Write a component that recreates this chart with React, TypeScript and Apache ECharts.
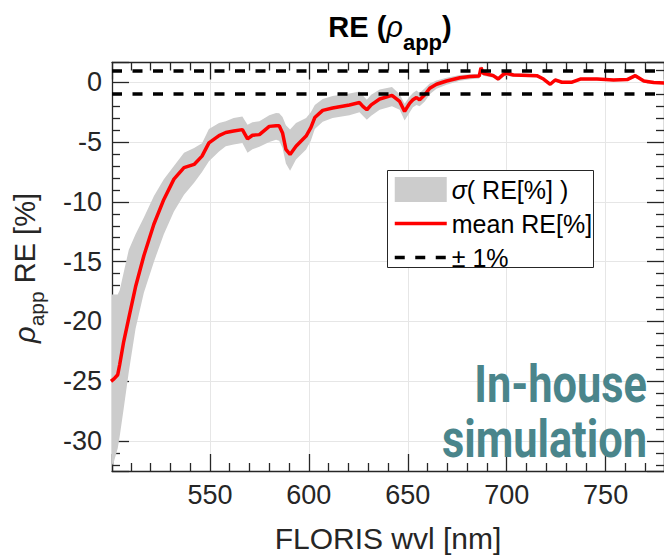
import React, { useEffect, useRef } from "react";
import * as echarts from "echarts";

// FLORIS wavelength samples [nm]
const wavelength = [
  500, 501.5, 503.4, 504.4, 506.4, 509, 512.4, 516.6, 521.7, 526.7,
  531.8, 536.9, 542, 546, 549.5, 554.6, 558, 562, 566.4, 569,
  571.5, 575, 580, 583.4, 585, 586.7, 588.4, 590.5, 593.5, 598.6,
  601, 603, 607, 612, 620.5, 625.6, 627.3, 629.3, 631.5, 635.8,
  642, 645.9, 648.4, 651, 652.6, 654.4, 656, 658.6, 661.1, 664.5,
  669.6, 676.3, 681.4, 686.1, 687, 688.1, 693.2, 695.7, 698.3, 700,
  703.4, 715.2, 718.6, 722, 724.5, 727.9, 733, 737.2, 745.6, 754,
  760.9, 765, 769.3, 774.3, 780,
];

// mean relative error of rho_app [%]
const meanRE = [
  -25.0, -24.8, -24.45, -23.6, -21.7, -19.7, -17.1, -14.5, -11.85, -9.8,
  -8.1, -7.14, -6.87, -6.18, -5.07, -4.46, -4.2, -4.08, -3.96, -4.74,
  -4.43, -4.38, -3.69, -3.63, -3.63, -4.24, -5.62, -6.04, -5.35, -4.5,
  -3.8, -2.95, -2.35, -2.15, -1.9, -1.7, -2.02, -2.3, -1.89, -1.4,
  -1.1, -1.61, -2.44, -1.75, -1.47, -1.28, -1.47, -1.05, -0.5, -0.17,
  0.1, 0.38, 0.47, 0.52, 1.21, 0.75, 0.55, 0.27, 0.66, 0.75,
  0.6, 0.55, 0.27, -0.17, 0.19, 0.0, 0.0, 0.27, 0.27, 0.19,
  0.22, 0.55, 0.1, -0.03, -0.06,
];

// lower / upper edge of the sigma envelope [%]
const bandLow = [
  -32.2, -31.7, -30.6, -29.6, -27.3, -24.2, -20.6, -17.6, -15.0, -12.7,
  -10.8, -9.4, -8.4, -7.5, -6.6, -5.8, -5.35, -5.2, -5.07, -5.9,
  -5.6, -5.4, -5.0, -4.8, -4.9, -5.5, -6.8, -7.4, -6.45, -5.62,
  -4.9, -3.9, -3.3, -3.0, -2.75, -2.5, -2.8, -3.13, -2.8, -2.3,
  -2.0, -2.3, -3.2, -2.5, -2.1, -1.9, -2.0, -1.6, -1.0, -0.55,
  -0.2, 0.12, 0.25, 0.32, 1.0, 0.55, 0.38, 0.1, 0.45, 0.55,
  0.45, 0.42, 0.15, -0.3, 0.05, -0.12, -0.12, 0.15, 0.15, 0.08,
  0.1, 0.42, 0.0, -0.13, -0.16,
];
const bandHigh = [
  -17.75, -17.75, -17.75, -17.4, -15.9, -14.0, -12.7, -11.3, -9.5, -8.1,
  -7.0, -5.9, -5.5, -5.1, -3.9, -3.4, -3.27, -3.0, -2.86, -3.55,
  -3.35, -3.27, -2.75, -2.58, -2.6, -2.9, -3.6, -3.96, -3.4, -3.0,
  -2.5, -1.9, -1.4, -1.15, -0.95, -0.78, -1.1, -1.47, -1.05, -0.6,
  -0.4, -1.0, -1.8, -1.2, -0.9, -0.7, -0.9, -0.5, -0.1, 0.15,
  0.38, 0.6, 0.66, 0.7, 1.4, 0.95, 0.72, 0.45, 0.85, 0.92,
  0.75, 0.68, 0.4, -0.05, 0.32, 0.12, 0.12, 0.38, 0.38, 0.3,
  0.34, 0.68, 0.22, 0.07, 0.04,
];

// tolerance band drawn as dashed lines [%]
const limitLines = [1, -1];

const X_MIN = 500.5;
const X_MAX = 779.5;
const Y_MIN = -32.5;
const Y_MAX = 1.65;

const FONT = '"Liberation Sans", Arial, Helvetica, sans-serif';
const STAMP_FONT = 'Roboto, "Liberation Sans", sans-serif';
const INK = "#262626";
const BAND = "#cccccc";
const RED = "#ff0000";
const TEAL = "#4a858b";
const DASH = [10, 10.5];

const NAME_SIGMA = "σ( RE[%] )";
const NAME_MEAN = "mean RE[%]";
const NAME_LIMIT = "± 1%";

function frameAxis(extra: any) {
  return {
    type: "value",
    axisLine: { show: true, onZero: false, lineStyle: { color: INK, width: 1.3 } },
    axisTick: { show: true, inside: true, length: 17, lineStyle: { color: INK, width: 1.3 } },
    minorTick: { show: true, splitNumber: 5, length: 8, lineStyle: { color: INK, width: 1.3 } },
    ...extra,
  };
}

export default function App() {
  const ref = useRef<HTMLDivElement>(null);

  useEffect(() => {
    const chart = echarts.init(ref.current!, null, { renderer: "svg" });
    const meanData = wavelength.map((w, i) => [w, meanRE[i]]);

    const tickLabel = {
      color: INK,
      fontFamily: FONT,
      fontSize: 27,
      showMinLabel: false,
      showMaxLabel: false,
    };
    const hiddenSymbol = { opacity: 0, color: "rgba(0,0,0,0)", borderWidth: 0 };

    chart.setOption({
      animation: false,
      backgroundColor: "#ffffff",
      grid: { left: 112, right: -3, top: 62.5, bottom: 84, containLabel: false },
      xAxis: [
        frameAxis({
          position: "bottom",
          min: X_MIN,
          max: X_MAX,
          splitNumber: 6,
          axisLabel: { ...tickLabel, margin: 10 },
          splitLine: { show: true, lineStyle: { color: "#e6e6e6", width: 1 } },
          name: "FLORIS wvl [nm]",
          nameLocation: "middle",
          nameGap: 52,
          nameTextStyle: { color: INK, fontFamily: FONT, fontSize: 30 },
        }),
        frameAxis({
          position: "top",
          min: X_MIN,
          max: X_MAX,
          splitNumber: 6,
          axisLabel: { show: false },
          splitLine: { show: false },
        }),
      ],
      yAxis: [
        frameAxis({
          position: "left",
          min: Y_MIN,
          max: Y_MAX,
          splitNumber: 7,
          axisLabel: { ...tickLabel, margin: 10 },
          splitLine: { show: true, lineStyle: { color: "#e6e6e6", width: 1 } },
        }),
        frameAxis({
          position: "right",
          min: Y_MIN,
          max: Y_MAX,
          splitNumber: 7,
          axisLabel: { show: false },
          splitLine: { show: false },
        }),
      ],
      legend: {
        left: 393,
        top: 177,
        orient: "vertical",
        itemWidth: 52,
        itemHeight: 25,
        itemGap: 9,
        padding: 0,
        selectedMode: false,
        z: 10,
        textStyle: {
          color: "#000000",
          fontFamily: FONT,
          fontSize: 25,
          rich: {
            i: { fontFamily: FONT, fontSize: 25, fontStyle: "italic", color: "#000000" },
          },
        },
        formatter: (name: string) => (name === NAME_SIGMA ? "{i|σ}( RE[%] )" : name),
        data: [
          { name: NAME_SIGMA, icon: "rect", itemStyle: { color: BAND } },
          {
            name: NAME_MEAN,
            itemStyle: hiddenSymbol,
            lineStyle: { color: RED, width: 3.5, type: "solid" },
          },
          {
            name: NAME_LIMIT,
            itemStyle: hiddenSymbol,
            lineStyle: { color: "#000000", width: 3.5, type: DASH },
          },
        ],
      },
      series: [
        {
          type: "custom",
          name: NAME_SIGMA,
          data: [0],
          clip: true,
          silent: true,
          z: 1,
          itemStyle: { color: BAND },
          renderItem: (_params: any, api: any) => {
            const pts: number[][] = [];
            for (let i = 0; i < wavelength.length; i++) {
              pts.push(api.coord([wavelength[i], bandHigh[i]]));
            }
            for (let i = wavelength.length - 1; i >= 0; i--) {
              pts.push(api.coord([wavelength[i], bandLow[i]]));
            }
            return {
              type: "polygon",
              shape: { points: pts },
              style: { fill: BAND, stroke: null },
            };
          },
        },
        {
          type: "line",
          name: NAME_MEAN,
          data: meanData,
          showSymbol: false,
          symbol: "none",
          z: 2,
          lineStyle: { color: RED, width: 3.5 },
          itemStyle: { color: RED },
        },
        {
          type: "line",
          name: NAME_LIMIT,
          data: [],
          symbol: "none",
          z: 3,
          lineStyle: { color: "#000000", width: 3.5, type: DASH },
          itemStyle: { color: "#000000" },
          markLine: {
            silent: true,
            symbol: ["none", "none"],
            label: { show: false },
            lineStyle: { color: "#000000", width: 3.5, type: DASH },
            data: limitLines.map((v) => ({ yAxis: v })),
          },
        },
      ],
      graphic: [
        {
          type: "rect",
          z: 5,
          shape: { x: 387.5, y: 170.5, width: 206, height: 97 },
          style: { fill: "#ffffff", stroke: INK, lineWidth: 1 },
        },
        {
          type: "text",
          z: 6,
          x: 390,
          y: 12,
          style: {
            text: "{b|RE (}{r|ρ}{s|app}{b|)}",
            align: "center",
            verticalAlign: "top",
            rich: {
              b: { fontFamily: FONT, fontSize: 29, fontWeight: "bold", lineHeight: 34, verticalAlign: "top", fill: "#000000" },
              r: { fontFamily: FONT, fontSize: 29, fontStyle: "italic", lineHeight: 34, verticalAlign: "top", fill: "#000000" },
              s: { fontFamily: FONT, fontSize: 22, fontWeight: "bold", lineHeight: 22, verticalAlign: "top", padding: [19, 0, 0, 0], fill: "#000000" },
            },
          },
        },
        {
          type: "text",
          z: 6,
          x: 10,
          y: 268,
          rotation: Math.PI / 2,
          style: {
            text: "{r|ρ}{s|app}{n| RE [%]}",
            align: "center",
            verticalAlign: "top",
            rich: {
              r: { fontFamily: FONT, fontSize: 29, fontStyle: "italic", lineHeight: 32, verticalAlign: "top", fill: INK },
              s: { fontFamily: FONT, fontSize: 21, lineHeight: 21, verticalAlign: "top", padding: [16, 0, 0, 0], fill: INK },
              n: { fontFamily: FONT, fontSize: 29, lineHeight: 32, verticalAlign: "top", fill: INK },
            },
          },
        },
        {
          type: "text",
          z: 6,
          x: 647,
          y: 385,
          scaleX: 0.85,
          style: {
            text: "In-house",
            align: "right",
            verticalAlign: "middle",
            fontFamily: STAMP_FONT,
            fontSize: 51,
            fontWeight: "bold",
            fill: TEAL,
          },
        },
        {
          type: "text",
          z: 6,
          x: 647,
          y: 440,
          scaleX: 0.85,
          style: {
            text: "simulation",
            align: "right",
            verticalAlign: "middle",
            fontFamily: STAMP_FONT,
            fontSize: 51,
            fontWeight: "bold",
            fill: TEAL,
          },
        },
      ],
    });

    return () => chart.dispose();
  }, []);

  return (
    <div
      ref={ref}
      style={{ position: "absolute", left: 0, top: 0, width: 664, height: 558 }}
    />
  );
}
